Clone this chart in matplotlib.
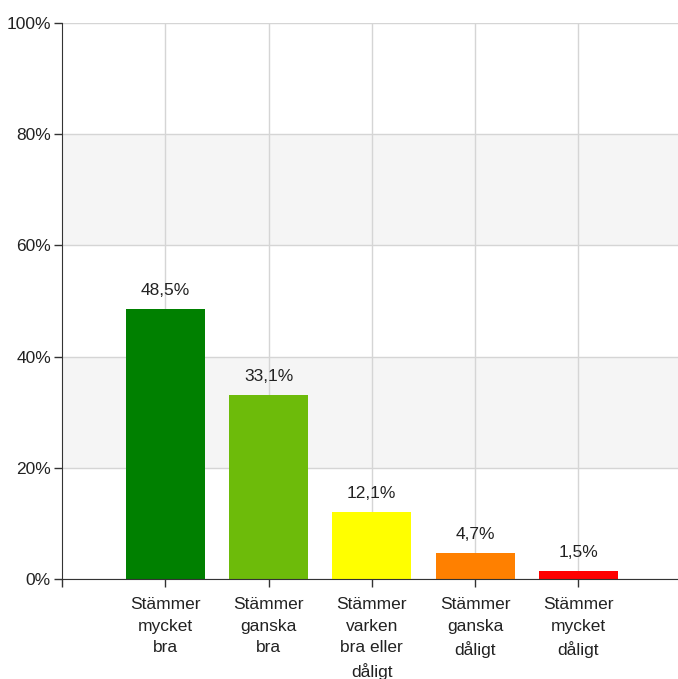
import matplotlib.pyplot as plt
from matplotlib.ticker import FuncFormatter

plt.rcParams['font.family'] = ['Liberation Sans', 'DejaVu Sans']

categories = ["Stämmer\nmycket\nbra", "Stämmer\nganska\nbra", "Stämmer\nvarken\nbra eller\ndåligt",
              "Stämmer\nganska\ndåligt", "Stämmer\nmycket\ndåligt"]
values = [48.5, 33.1, 12.1, 4.7, 1.5]
value_labels = ["48,5%", "33,1%", "12,1%", "4,7%", "1,5%"]
colors = ["#008000", "#6dbb0a", "#ffff00", "#ff8000", "#ff0000"]
yticks = [0, 20, 40, 60, 80, 100]

fig = plt.figure(figsize=(6.78, 6.79), dpi=100)
ax = fig.add_axes([62 / 678, 100 / 679, 616 / 678, 556 / 679])

x = list(range(1, len(values) + 1))

# alternating background bands
for lo in range(0, 100, 20):
    if (lo // 20) % 2 == 1:
        ax.axhspan(lo, lo + 20, color="#f5f5f5", zorder=0, lw=0)
for t in yticks:
    ax.axhline(t, color="#d5d5d5", lw=1, zorder=0.5)
for xi in x:
    ax.axvline(xi, color="#d5d5d5", lw=1, zorder=0.5)

ax.bar(x, values, width=0.765, color=colors, zorder=2)
for xi, v, lb in zip(x, values, value_labels):
    ax.annotate(lb, (xi, v), xytext=(0, 8), textcoords="offset points",
                ha="center", va="bottom", fontsize=12.5, color="#222222", zorder=3)

ax.set_xlim(0, 5.965)
ax.set_ylim(0, 100)
ax.set_yticks(yticks)
ax.yaxis.set_major_formatter(FuncFormatter(lambda v, p: f"{int(v)}%"))
ax.set_xticks([0] + x)
ax.set_xticklabels([""] + categories, linespacing=1.55, fontsize=12.5)

for s in ["top", "right"]:
    ax.spines[s].set_visible(False)
ax.spines["left"].set_color("#333333")
ax.spines["bottom"].set_color("#333333")
ax.tick_params(axis="both", labelsize=12.5, colors="#333333", labelcolor="#222222", length=6, width=1)
ax.tick_params(axis="x", pad=7)
ax.tick_params(axis="y", pad=2)

fig.savefig("out.png", dpi=100)
